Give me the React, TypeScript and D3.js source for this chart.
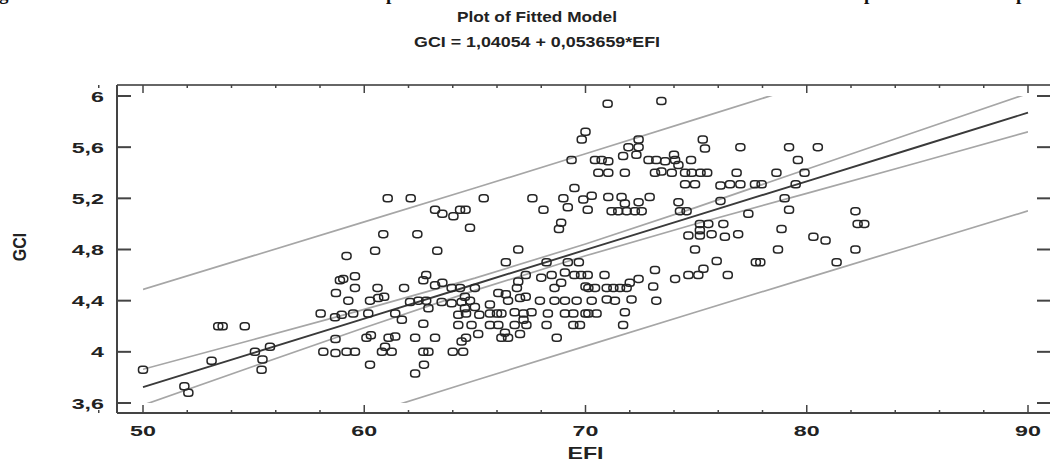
import * as d3 from "d3";

// model from the title
const INTERCEPT = 1.04054;
const SLOPE = 0.053659;

// band half-widths
const bandEFI = [50, 55, 60, 65, 70, 75, 80, 85, 90];
const confHalf = [0.14, 0.105, 0.072, 0.048, 0.046, 0.064, 0.094, 0.123, 0.15];
const predHalf = [0.765, 0.76, 0.756, 0.752, 0.752, 0.754, 0.757, 0.762, 0.768];

// observations (EFI, GCI)
const efi = [
  50.0, 51.87, 52.05, 53.1, 53.4, 53.6, 54.6, 55.06, 55.4, 55.36, 55.74, 58.03, 58.15, 58.7, 58.72, 58.9, 58.7,
  61.06, 62.1, 63.2, 63.53, 64.03, 64.33, 64.58, 64.78, 60.86, 62.4, 60.49, 63.3, 59.2, 59.58, 59.05,
  59.58, 60.6, 61.8, 62.8, 62.67, 63.2, 63.53, 63.95, 64.33, 59.28, 60.26, 60.63, 60.9, 62.07, 62.45, 62.8,
  63.5, 63.95, 64.4, 58.68, 58.98, 59.5, 60.18, 61.4, 61.7, 62.9, 62.67, 64.25, 64.6, 64.25, 60.1, 60.3,
  61.1, 61.4, 62.3, 63.2, 64.4, 64.6, 60.94, 59.2, 59.58, 60.8, 61.24, 62.67, 62.9, 64.0, 64.47, 60.26,
  62.7, 62.3,
  69.83, 70.0, 69.37, 69.5, 69.0, 69.9, 70.28, 69.2, 70.1, 65.4, 67.6, 68.1, 68.9, 68.8, 66.96, 66.4,
  68.24, 69.2, 69.7, 67.3, 68.0, 68.47, 69.07, 66.96, 66.9, 65.0, 68.6, 68.9, 69.5, 69.8, 70.0, 66.06,
  66.4, 64.55, 64.78, 65.68, 66.5, 67.04, 67.3, 67.94, 68.6, 69.07, 69.6, 64.55, 65.0, 65.2, 64.85, 65.68,
  66.0, 66.2, 66.8, 67.2, 67.56, 68.3, 69.07, 69.45, 70.0, 67.2, 67.33, 65.68, 66.06, 66.8, 67.04, 68.24,
  69.45, 69.75, 65.15, 66.2, 66.5, 66.36, 68.7,
  71.0, 73.43, 75.3, 75.4, 72.4, 71.94, 72.4, 72.3, 71.7, 70.43, 70.73, 71.03, 72.85, 73.2, 73.6, 74.0,
  74.05, 74.2, 74.77, 70.58, 71.03, 71.78, 73.14, 73.43, 73.9, 74.5, 74.8, 75.2, 75.5, 74.5, 74.95, 71.03,
  71.63, 72.9, 71.78, 72.4, 71.18, 71.48, 71.86, 72.23, 72.54, 74.2, 74.27, 74.57, 75.17, 75.17, 74.65,
  75.17, 74.95, 75.55, 70.1, 70.86, 72.4, 72.0, 73.14, 74.05, 74.65, 75.1, 75.33, 70.13, 70.43, 70.96,
  71.26, 71.56, 71.86, 73.06, 70.28, 70.96, 71.33, 72.08, 73.2, 70.13, 70.5, 71.78, 71.7,
  77.0, 79.2, 80.5, 79.6, 76.83, 78.63, 79.9, 76.1, 76.53, 77.0, 77.66, 77.96, 79.5, 76.1, 79.0, 77.36,
  79.2, 82.2, 76.23, 82.3, 82.6, 75.7, 76.3, 76.9, 78.86, 80.3, 80.85, 78.7, 82.2, 75.93, 77.7, 77.9,
  81.35, 76.43,
];
const gci = [
  3.86, 3.73, 3.68, 3.93, 4.2, 4.2, 4.2, 4.0, 3.94, 3.86, 4.04, 4.3, 4.0, 3.99, 4.46, 4.56, 4.1,
  5.2, 5.2, 5.11, 5.08, 5.06, 5.11, 5.11, 4.97, 4.92, 4.92, 4.79, 4.79, 4.75, 4.59, 4.57,
  4.5, 4.5, 4.5, 4.6, 4.56, 4.52, 4.54, 4.5, 4.5, 4.4, 4.4, 4.42, 4.43, 4.39, 4.4, 4.4,
  4.39, 4.38, 4.39, 4.27, 4.29, 4.3, 4.3, 4.3, 4.25, 4.34, 4.22, 4.29, 4.3, 4.21, 4.11, 4.13,
  4.11, 4.12, 4.11, 4.11, 4.08, 4.11, 4.04, 4.0, 4.0, 4.0, 4.0, 4.0, 4.0, 4.0, 4.0, 3.9,
  3.9, 3.83,
  5.66, 5.72, 5.5, 5.28, 5.2, 5.19, 5.22, 5.13, 5.11, 5.2, 5.2, 5.11, 5.01, 4.96, 4.8, 4.7,
  4.7, 4.7, 4.7, 4.6, 4.58, 4.6, 4.62, 4.55, 4.5, 4.5, 4.5, 4.54, 4.6, 4.6, 4.51, 4.46,
  4.45, 4.43, 4.4, 4.37, 4.4, 4.42, 4.43, 4.4, 4.4, 4.4, 4.4, 4.34, 4.35, 4.29, 4.21, 4.3,
  4.3, 4.3, 4.31, 4.3, 4.31, 4.3, 4.3, 4.3, 4.3, 4.25, 4.21, 4.21, 4.21, 4.21, 4.14, 4.21,
  4.21, 4.21, 4.14, 4.11, 4.11, 4.15, 4.11,
  5.94, 5.96, 5.66, 5.59, 5.66, 5.6, 5.6, 5.54, 5.53, 5.5, 5.5, 5.49, 5.5, 5.5, 5.49, 5.54,
  5.5, 5.46, 5.5, 5.4, 5.4, 5.4, 5.4, 5.41, 5.4, 5.4, 5.4, 5.4, 5.4, 5.31, 5.31, 5.21,
  5.21, 5.21, 5.16, 5.17, 5.1, 5.1, 5.1, 5.1, 5.1, 5.17, 5.1, 5.1, 5.0, 4.95, 4.91,
  4.91, 4.8, 5.0, 4.6, 4.6, 4.57, 4.54, 4.64, 4.57, 4.6, 4.6, 4.65, 4.5, 4.5, 4.5,
  4.5, 4.5, 4.5, 4.51, 4.4, 4.41, 4.4, 4.41, 4.4, 4.3, 4.3, 4.31, 4.21,
  5.6, 5.6, 5.6, 5.5, 5.4, 5.4, 5.4, 5.3, 5.31, 5.31, 5.31, 5.31, 5.31, 5.18, 5.2, 5.08,
  5.11, 5.1, 5.0, 5.0, 5.0, 4.92, 4.9, 4.92, 4.96, 4.9, 4.87, 4.8, 4.8, 4.71, 4.7, 4.7,
  4.7, 4.6,
];

const xTicks = [50, 60, 70, 80, 90];
const xTickLabels = ["50", "60", "70", "80", "90"];
const yTicks = [3.6, 4, 4.4, 4.8, 5.2, 5.6, 6];
const yTickLabels = ["3,6", "4", "4,4", "4,8", "5,2", "5,6", "6"];

const W = 1050;
const H = 461;
const FRAME = { left: 117, right: 1052, top: 85, bottom: 413 };
const FONT = "'Liberation Sans', Arial, sans-serif";
const LABEL_STRETCH = 1.55;

export default function App() {
  const x = d3.scaleLinear().domain([50, 90]).range([143, 1028]);
  const y = d3.scaleLinear().domain([3.6, 6]).range([403, 96]);

  const fit = (v: number) => INTERCEPT + SLOPE * v;
  const minorTicks = d3.range(48, 92, 2).filter((v) => v % 10 !== 0);

  const line = d3
    .line<number[]>()
    .x((d) => x(d[0]))
    .y((d) => y(d[1]));

  const fitted = bandEFI.map((v) => [v, fit(v)]);
  const band = (half: number[], sign: number) => bandEFI.map((v, i) => [v, fit(v) + sign * half[i]]);

  const points = efi.map((e, i) => ({ e, g: gci[i] }));

  return (
    <svg width={W} height={H} style={{ position: "absolute", left: 0, top: 0 }}>
      <rect width={W} height={H} fill="#fff" />

      {/* caption line cut off above the picture */}
      <g fontFamily="'Liberation Serif', serif" fontWeight="bold" fontSize={19} fill="#111">
        <text x={-1} y={0}>g</text>
        <text x={386} y={0}>p</text>
        <text x={864} y={0}>p</text>
        <text x={1016} y={0}>p</text>
      </g>

      <g fontFamily={FONT} fontWeight="bold" fontSize={15} fill="#222" textAnchor="middle">
        <text x={537} y={22} textLength={160} lengthAdjust="spacingAndGlyphs">Plot of Fitted Model</text>
        <text x={537} y={47} textLength={246} lengthAdjust="spacingAndGlyphs">GCI = 1,04054 + 0,053659*EFI</text>
      </g>

      <defs>
        <clipPath id="bandClip">
          <rect x={x(50)} y={y(6)} width={x(90) - x(50)} height={y(3.6) - y(6)} />
        </clipPath>
      </defs>

      {/* frame */}
      <g stroke="#444" fill="none">
        <line x1={FRAME.left} x2={FRAME.right} y1={FRAME.top} y2={FRAME.top} strokeWidth={2} stroke="#666" />
        <line x1={FRAME.left} x2={FRAME.right} y1={FRAME.bottom} y2={FRAME.bottom} strokeWidth={2} />
        <line x1={FRAME.left} x2={FRAME.left} y1={FRAME.top} y2={FRAME.bottom} strokeWidth={2} />
      </g>

      {/* y ticks, both sides */}
      <g stroke="#444" strokeWidth={2}>
        {yTicks.map((t) => (
          <g key={t}>
            <line x1={FRAME.left} x2={FRAME.left + 14} y1={y(t)} y2={y(t)} />
            <line x1={1037} x2={FRAME.right} y1={y(t)} y2={y(t)} />
          </g>
        ))}
      </g>

      {/* x ticks, bottom and top */}
      <g stroke="#444" strokeWidth={1.5}>
        {xTicks.map((t) => (
          <g key={t}>
            <line x1={x(t)} x2={x(t)} y1={FRAME.bottom} y2={FRAME.bottom - 8} />
            <line x1={x(t)} x2={x(t)} y1={FRAME.top} y2={FRAME.top + 8} />
          </g>
        ))}
        {minorTicks.map((t) => (
          <g key={t}>
            <line x1={x(t)} x2={x(t)} y1={FRAME.bottom} y2={FRAME.bottom - 3} />
            <line x1={x(t)} x2={x(t)} y1={FRAME.top} y2={FRAME.top + 3} />
          </g>
        ))}
      </g>

      {/* tick labels */}
      <g fontFamily={FONT} fontWeight="bold" fontSize={15} fill="#222">
        {yTicks.map((t, i) => (
          <text
            key={t}
            textAnchor="end"
            transform={`translate(104,${y(t) + 5.5}) scale(${LABEL_STRETCH},1)`}
          >
            {yTickLabels[i]}
          </text>
        ))}
        {xTicks.map((t, i) => (
          <text
            key={t}
            textAnchor="middle"
            transform={`translate(${x(t)},436) scale(${LABEL_STRETCH},1)`}
          >
            {xTickLabels[i]}
          </text>
        ))}
        <text textAnchor="middle" transform={`translate(${x(70)},459) scale(1.45,1)`} fontSize={16}>
          EFI
        </text>
        <text textAnchor="middle" transform="translate(26,247) rotate(-90) scale(1,1.15)" fontSize={16}>
          GCI
        </text>
      </g>

      {/* bands and fitted line */}
      <g fill="none" clipPath="url(#bandClip)">
        <path d={line(band(predHalf, 1)) ?? ""} stroke="#a6a6a6" strokeWidth={1.7} />
        <path d={line(band(predHalf, -1)) ?? ""} stroke="#a6a6a6" strokeWidth={1.7} />
        <path d={line(band(confHalf, 1)) ?? ""} stroke="#a6a6a6" strokeWidth={1.7} />
        <path d={line(band(confHalf, -1)) ?? ""} stroke="#a6a6a6" strokeWidth={1.7} />
      </g>
      <path d={line(fitted) ?? ""} fill="none" stroke="#3a3a3a" strokeWidth={1.9} />

      {/* observations */}
      <g fill="none" stroke="#262626" strokeWidth={1.5}>
        {points.map((p, i) => (
          <rect key={i} x={x(p.e) - 4.5} y={y(p.g) - 3.5} width={9} height={7} rx={3.2} ry={2.8} />
        ))}
      </g>
    </svg>
  );
}
